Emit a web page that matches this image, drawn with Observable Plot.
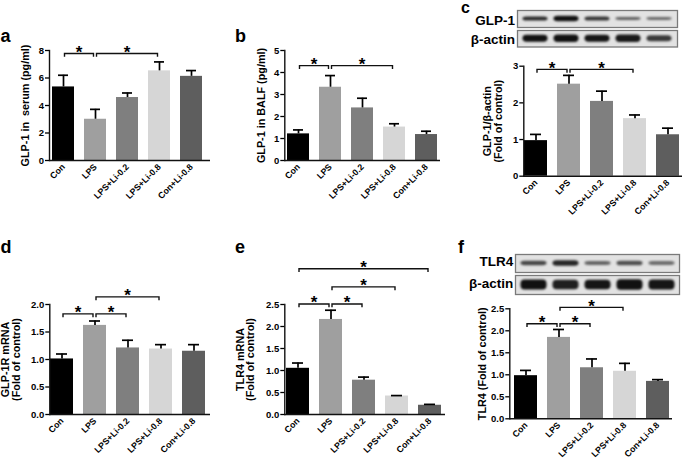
<!DOCTYPE html>
<html><head><meta charset="utf-8">
<script src="https://cdn.jsdelivr.net/npm/d3@7"></script>
<script src="https://cdn.jsdelivr.net/npm/@observablehq/plot@0.6"></script>
<style>
body{margin:0;background:#fff;}
#fig{position:relative;width:685px;height:458px;overflow:hidden;background:#fff;font-family:"Liberation Sans",Arial,sans-serif;}
.lbl{position:absolute;font-weight:bold;line-height:1;white-space:nowrap;color:#000;}
.panel{position:absolute;}
</style></head><body><div id="fig"></div>
<script>
// ---------- data ----------
const groups = ["Con", "LPS", "LPS+Li-0.2", "LPS+Li-0.8", "Con+Li-0.8"];
const groupColors = ["#000000", "#9f9f9f", "#7f7f7f", "#d6d6d6", "#5e5e5e"];

const serumMean = [5.35, 3.00, 4.58, 6.52, 6.12];
const serumSem  = [0.85, 0.72, 0.33, 0.65, 0.42];
const balfMean  = [1.21, 3.33, 2.39, 1.52, 1.18];
const balfSem   = [0.18, 0.53, 0.44, 0.15, 0.15];
const glp1WbMean = [0.97, 2.51, 2.04, 1.57, 1.13];
const glp1WbSem  = [0.17, 0.24, 0.28, 0.10, 0.18];
const glp1rMean = [1.01, 1.62, 1.21, 1.19, 1.15];
const glp1rSem  = [0.09, 0.08, 0.14, 0.08, 0.12];
const tlr4mMean = [1.05, 2.16, 0.78, 0.42, 0.21];
const tlr4mSem  = [0.12, 0.21, 0.07, 0.01, 0.02];
const tlr4WbMean = [0.98, 1.85, 1.16, 1.08, 0.85];
const tlr4WbSem  = [0.12, 0.18, 0.20, 0.18, 0.04];

const yTicksA = [0, 2, 4, 6, 8];
const yTicksB = [0, 1, 2, 3, 4, 5];
const yTicksC = [0, 1, 2, 3];
const yTicksD = [0, 0.5, 1.0, 1.5, 2.0];
const yTicksE = [0, 0.5, 1.0, 1.5, 2.0, 2.5];
const yTicksF = [0, 0.5, 1.0, 1.5, 2.0, 2.5];

// significance brackets: [from, to, level]
const sigA = [["Con", "LPS", 7.75], ["LPS", "LPS+Li-0.8", 7.75]];
const sigB = [["Con", "LPS", 4.29], ["LPS", "LPS+Li-0.8", 4.29]];
const sigC = [["Con", "LPS", 2.90], ["LPS", "LPS+Li-0.8", 2.90]];
const sigD = [["Con", "LPS", 1.82], ["LPS", "LPS+Li-0.2", 1.82], ["LPS", "LPS+Li-0.8", 2.13]];
const sigE = [["Con", "LPS", 2.50], ["LPS", "LPS+Li-0.2", 2.50], ["LPS", "LPS+Li-0.8", 2.89], ["Con", "Con+Li-0.8", 3.30]];
const sigF = [["Con", "LPS", 2.15], ["LPS", "LPS+Li-0.2", 2.15], ["LPS", "LPS+Li-0.8", 2.52]];

// western blot band estimates (relative intensity, relative thickness)
const blotGlp1Int = [0.85, 0.97, 0.80, 0.60, 0.55];
const blotGlp1Thk = [0.24, 0.32, 0.24, 0.17, 0.17];
const blotActCInt = [0.97, 0.97, 0.95, 0.93, 0.78];
const blotActCThk = [0.42, 0.44, 0.42, 0.44, 0.36];
const blotTlr4Int = [0.72, 0.88, 0.58, 0.68, 0.55];
const blotTlr4Thk = [0.24, 0.30, 0.22, 0.26, 0.22];
const blotActFInt = [0.97, 0.90, 0.95, 0.97, 0.95];
const blotActFThk = [0.52, 0.50, 0.50, 0.54, 0.52];

// ---------- helpers ----------
const FONT = "Liberation Sans, Arial, sans-serif";
const fig = document.getElementById("fig");

function sigMark(list) {
  return (index, scales) => {
    const x = scales.x, y = scales.y;
    const bw = x.bandwidth();
    const g = d3.create("svg:g");
    for (const [a, b, lvl] of list) {
      const x1 = x(a) + bw / 2 + 1.5, x2 = x(b) + bw / 2 - 1.5, yy = y(lvl);
      g.append("path")
        .attr("d", `M${x1},${yy + 3.3}V${yy}H${x2}V${yy + 3.3}`)
        .attr("fill", "none").attr("stroke", "#111").attr("stroke-width", 1.4);
      g.append("text")
        .attr("x", (x1 + x2) / 2).attr("y", yy + 4.2)
        .attr("text-anchor", "middle").attr("font-size", 17)
        .attr("font-weight", "bold").attr("font-family", FONT).text("*");
    }
    return g.node();
  };
}

function barPanel(o) {
  const data = groups.map((g, i) => ({group: g, mean: o.mean[i], sem: o.sem[i]}));
  const W = o.box[2], H = o.box[3];
  const [fl, fr, ft, fb] = o.frame;
  const chart = Plot.plot({
    width: W, height: H,
    marginLeft: fl - o.box[0], marginRight: o.box[0] + W - fr,
    marginTop: ft - o.box[1], marginBottom: o.box[1] + H - fb,
    style: {background: "transparent", overflow: "visible", fontFamily: FONT},
    x: {domain: groups, paddingInner: 0.31, paddingOuter: 0, insetLeft: o.inset[0], insetRight: o.inset[1]},
    y: {domain: [0, o.ticks[o.ticks.length - 1]]},
    color: {domain: groups, range: groupColors},
    marks: [
      Plot.barY(data, {x: "group", y: "mean", fill: "group"}),
      Plot.ruleX(data, {x: "group", y1: "mean", y2: d => d.mean + d.sem, stroke: "#000", strokeWidth: 1.7}),
      Plot.tickY(data, {x: "group", y: d => d.mean + d.sem, stroke: "#000", strokeWidth: 1.7, insetLeft: 6, insetRight: 6}),
      Plot.frame({anchor: "left", stroke: "#111", strokeWidth: 1.4}),
      Plot.ruleY([0], {stroke: "#111", strokeWidth: 1.4}),
      Plot.axisY({ticks: o.ticks, tickSize: 4, tickPadding: 1.5, fontSize: 9.5, fontWeight: "bold",
        tickFormat: o.fmt, label: null, strokeWidth: 1.3}),
      Plot.axisX({tickSize: 0, tickPadding: 5, tickRotate: -45, fontSize: 8.8, fontWeight: "bold", label: null}),
      Plot.text([o.label], {frameAnchor: "left", rotate: -90, dx: o.labelDx, text: d => d,
        fontSize: 10.8, fontWeight: "bold", textAnchor: "middle", lineAnchor: "middle", lineHeight: 1.0}),
      sigMark(o.sig)
    ]
  });
  chart.classList.add("panel");
  chart.style.left = o.box[0] + "px";
  chart.style.top = o.box[1] + "px";
  fig.appendChild(chart);
}

function blot(o) {
  const data = groups.map((g, i) => ({group: g, v: o.int[i], h: o.thk[i]}));
  const [l, t, w, h] = o.box;
  const chart = Plot.plot({
    width: w, height: h, margin: 0,
    style: {background: "transparent", overflow: "visible"},
    x: {domain: groups, padding: 0.1, axis: null},
    y: {domain: [-1, 1], axis: null},
    opacity: {type: "identity"},
    marks: [
      Plot.frame({fill: "#e2e2e2", stroke: "#7a7a7a", strokeWidth: 1.3}),
      Plot.barY(data, {x: "group", y1: d => -d.h, y2: d => d.h, fill: "#0a0a0a", fillOpacity: "v",
        rx: 4, insetLeft: 1.5, insetRight: 1.5})
    ]
  });
  d3.select(chart).selectAll("g[aria-label='bar']").style("filter", "blur(1.3px)");
  chart.classList.add("panel");
  chart.style.left = l + "px";
  chart.style.top = t + "px";
  fig.appendChild(chart);
}

function label(text, left, top, size, right) {
  const d = document.createElement("div");
  d.className = "lbl";
  d.textContent = text;
  d.style.fontSize = size + "px";
  d.style.top = top + "px";
  if (right != null) { d.style.right = right + "px"; d.style.textAlign = "right"; }
  else d.style.left = left + "px";
  fig.appendChild(d);
}

const f1 = d3.format(".1f");

// ---------- panels ----------
barPanel({box: [0, 30, 225, 195], frame: [49, 210, 50, 160], inset: [1, 5.3], mean: serumMean, sem: serumSem,
  ticks: yTicksA, fmt: d3.format("d"), label: "GLP-1 in  serum (pg/ml)", labelDx: -24, sig: sigA});
barPanel({box: [225, 30, 225, 195], frame: [284.3, 440, 50, 160], inset: [0.7, 0.5], mean: balfMean, sem: balfSem,
  ticks: yTicksB, fmt: d3.format("d"), label: "GLP-1 in BALF (pg/ml)", labelDx: -23.3, sig: sigB});
barPanel({box: [455, 50, 230, 175], frame: [523.3, 682, 65.7, 175.7], inset: [0.3, 2.7], mean: glp1WbMean, sem: glp1WbSem,
  ticks: yTicksC, fmt: d3.format("d"), label: "GLP-1/β-actin\n(Fold of control)", labelDx: -30.5, sig: sigC});
barPanel({box: [0, 235, 225, 223], frame: [49.3, 210, 304, 414], inset: [0.7, 4.7], mean: glp1rMean, sem: glp1rSem,
  ticks: yTicksD, fmt: f1, label: "GLP-1R mRNA\n(Fold of control)", labelDx: -38.5, sig: sigD});
barPanel({box: [225, 235, 225, 223], frame: [284.3, 445, 304, 414], inset: [0.7, 4], mean: tlr4mMean, sem: tlr4mSem,
  ticks: yTicksE, fmt: f1, label: "TLR4 mRNA\n(Fold of control)", labelDx: -39.3, sig: sigE});
barPanel({box: [455, 295, 230, 163], frame: [509.3, 672, 308.3, 418.3], inset: [4, 2.7], mean: tlr4WbMean, sem: tlr4WbSem,
  ticks: yTicksF, fmt: f1, label: "TLR4 (Fold of control)", labelDx: -27.6, sig: sigF});

// ---------- blots ----------
blot({box: [517, 10, 160, 17], int: blotGlp1Int, thk: blotGlp1Thk});
blot({box: [517, 30, 160, 16.5], int: blotActCInt, thk: blotActCThk});
blot({box: [515, 253.5, 164, 18], int: blotTlr4Int, thk: blotTlr4Thk});
blot({box: [515, 274.5, 164, 19], int: blotActFInt, thk: blotActFThk});

// ---------- labels ----------
label("a", 0.5, 26.5, 18);
label("b", 235, 26.5, 18);
label("c", 461, 0, 16);
label("d", 0.5, 238.1, 18);
label("e", 235, 238.1, 18);
label("f", 458, 238.1, 18);
label("GLP-1", 0, 13.6, 13.5, 170);
label("β-actin", 0, 32.6, 13.5, 170);
label("TLR4", 0, 255.3, 13.5, 171.7);
label("β-actin", 0, 276.6, 13.5, 171.7);
</script>
</body></html>
